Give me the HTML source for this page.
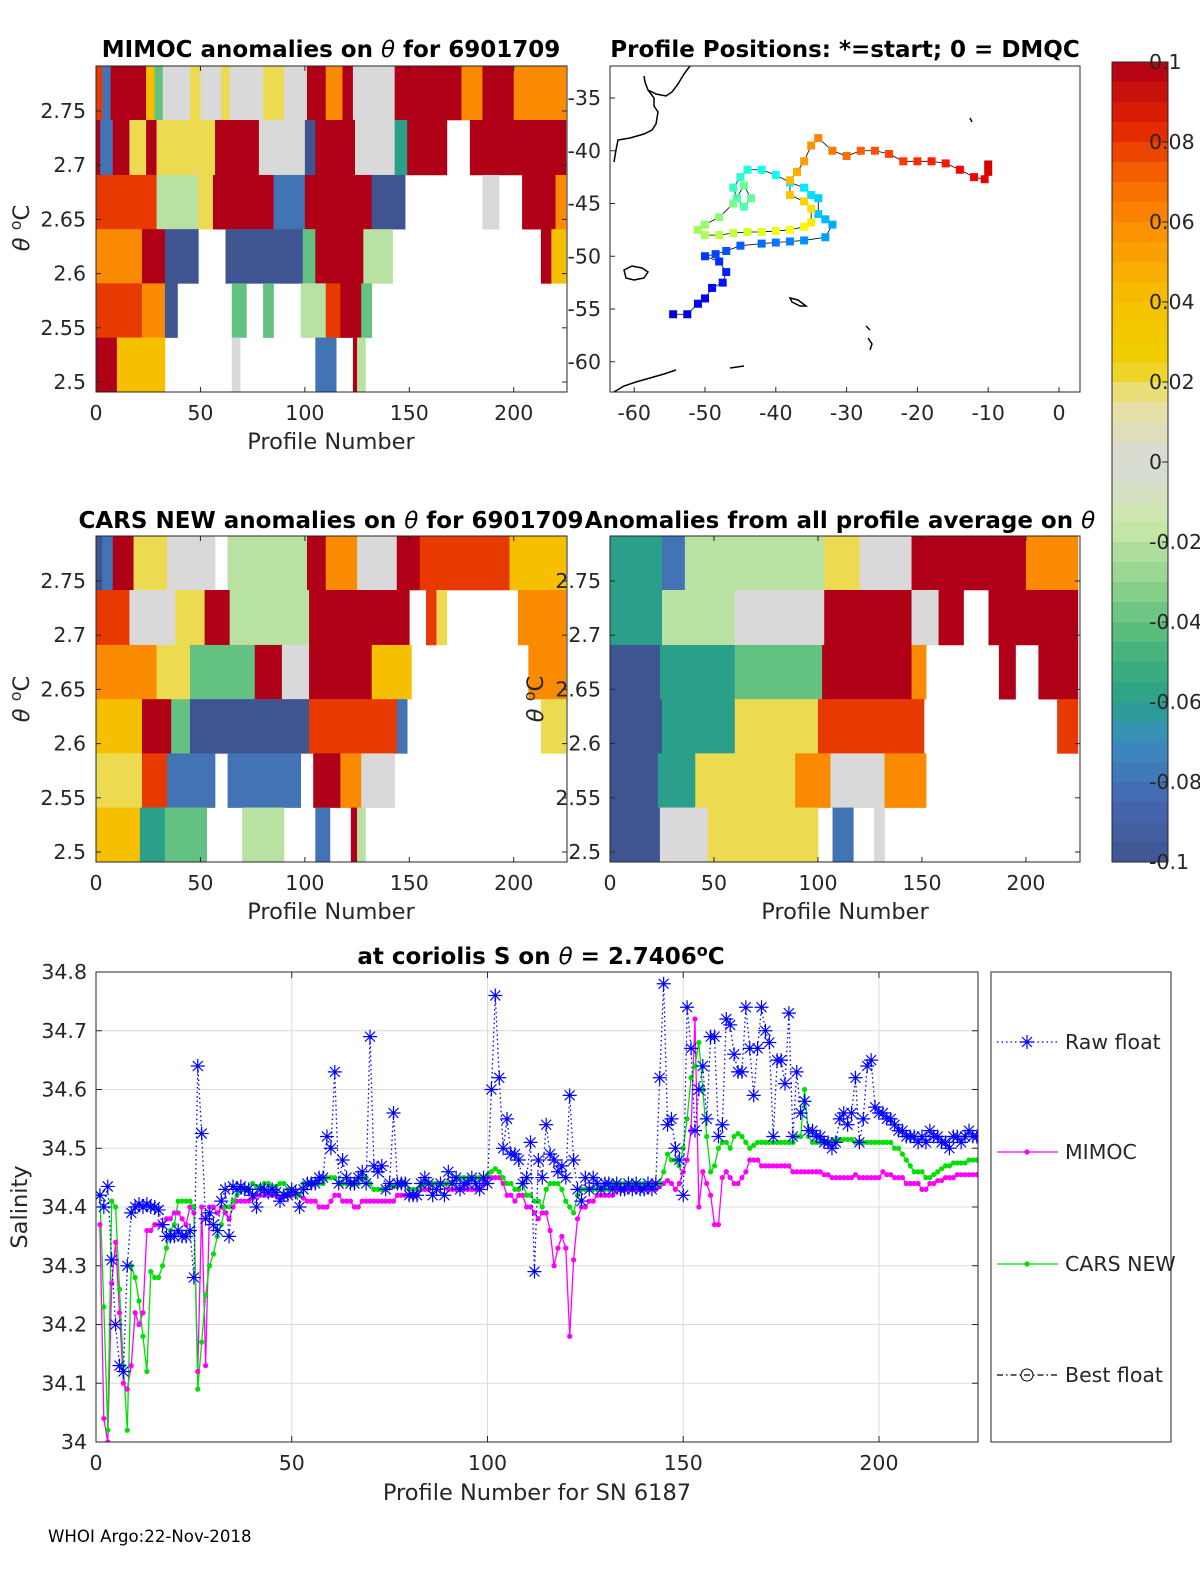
<!DOCTYPE html>
<html><head><meta charset="utf-8">
<style>
html,body{margin:0;padding:0;background:#fff;}
svg{display:block;font-family:"DejaVu Sans","Liberation Sans",sans-serif;}
.t{font-size:20.5px;fill:#262626;}
.ttl{font-size:23px;font-weight:bold;fill:#000;}
.lab{font-size:22.5px;fill:#262626;}
</style></head>
<body>
<svg id="fig" width="1200" height="1575" viewBox="0 0 1200 1575" xmlns="http://www.w3.org/2000/svg">
<g id="heat1"></g>
<g id="heat2"></g>
<g id="heat3"></g>
<g id="map"></g>
<g id="cbar"></g>
<g id="sal"></g>
<g id="txt">
<text class="ttl" x="331" y="57" text-anchor="middle">MIMOC anomalies on <tspan font-style="italic" font-weight="normal">θ</tspan>  for 6901709</text>
<text class="ttl" x="845" y="57" text-anchor="middle">Profile Positions: *=start; 0 = DMQC</text>
<text class="ttl" x="331" y="528" text-anchor="middle">CARS NEW anomalies on <tspan font-style="italic" font-weight="normal">θ</tspan> for 6901709</text>
<text class="ttl" x="840" y="528" text-anchor="middle">Anomalies from all profile average on <tspan font-style="italic" font-weight="normal">θ</tspan></text>
<text class="ttl" x="541" y="964" text-anchor="middle">at coriolis S on <tspan font-style="italic" font-weight="normal">θ</tspan> = 2.7406<tspan dy="-8" font-size="16">o</tspan><tspan dy="8">C</tspan></text>
<text class="lab" x="331" y="449" text-anchor="middle">Profile Number</text>
<text class="lab" x="331" y="919" text-anchor="middle">Profile Number</text>
<text class="lab" x="845" y="919" text-anchor="middle">Profile Number</text>
<text class="lab" x="537" y="1500" text-anchor="middle">Profile Number for SN 6187</text>
<text class="lab" transform="translate(29,228) rotate(-90)" text-anchor="middle"><tspan font-style="italic">θ</tspan> <tspan dy="-8" font-size="16">o</tspan><tspan dy="8">C</tspan></text>
<text class="lab" transform="translate(29,699) rotate(-90)" text-anchor="middle"><tspan font-style="italic">θ</tspan> <tspan dy="-8" font-size="16">o</tspan><tspan dy="8">C</tspan></text>
<text class="lab" transform="translate(543,699) rotate(-90)" text-anchor="middle"><tspan font-style="italic">θ</tspan> <tspan dy="-8" font-size="16">o</tspan><tspan dy="8">C</tspan></text>
<text class="lab" transform="translate(27,1207) rotate(-90)" text-anchor="middle">Salinity</text>
<text x="48" y="1542" font-size="16.6" fill="#000">WHOI Argo:22-Nov-2018</text>
</g>
</svg>
<script>
const NS='http://www.w3.org/2000/svg';
const rowEdges=[2.7915,2.7417,2.691,2.641,2.591,2.541,2.4908];
const mimocRows=[
[[0,3,4],[3,7,-4],[7,24,5],[24,28,2],[28,32,-2],[32,45,0],[45,50,1],[50,60,0],[60,64,1],[64,80,0],[80,90,1],[90,101,0],[101,110,5],[110,118,3],[118,123,5],[123,143,0],[143,175,5],[175,185,3],[185,200,5],[200,225,3]],
[[0,2,5],[2,8,-4],[8,16,5],[16,24,1],[24,29,5],[29,57,1],[57,78,5],[78,100,0],[100,105,-5],[105,124,5],[124,143,0],[143,149,-3],[149,168,5],[168,179,null],[179,225,5]],
[[0,29,4],[29,49,-1],[49,56,1],[56,85,5],[85,100,-4],[100,132,5],[132,148,-5],[148,185,null],[185,193,0],[193,204,null],[204,220,5],[220,225,3]],
[[0,22,3],[22,33,5],[33,49,-5],[49,62,null],[62,99,-5],[99,105,-2],[105,128,5],[128,142,-1],[142,213,null],[213,218,5],[218,225,2]],
[[0,22,4],[22,33,3],[33,39,-5],[39,65,null],[65,72,-2],[72,80,null],[80,85,-2],[85,98,null],[98,110,-1],[110,117,4],[117,127,5],[127,132,-2],[132,225,null]],
[[0,10,5],[10,33,2],[33,65,null],[65,69,0],[69,105,null],[105,115,-4],[115,123,null],[123,125,5],[125,129,-1],[129,225,null]]
];
const carsRows=[
[[0,3,-5],[3,8,-4],[8,18,5],[18,34,1],[34,57,0],[57,63,null],[63,101,-1],[101,110,5],[110,125,3],[125,144,0],[144,155,5],[155,198,4],[198,225,2]],
[[0,16,4],[16,38,0],[38,52,1],[52,64,5],[64,102,-1],[102,150,5],[150,158,null],[158,163,4],[163,168,1],[168,202,null],[202,225,3]],
[[0,29,3],[29,45,1],[45,76,-2],[76,89,5],[89,102,0],[102,132,5],[132,151,2],[151,207,null],[207,225,3]],
[[0,22,2],[22,36,5],[36,45,-2],[45,102,-5],[102,144,4],[144,149,-4],[149,213,null],[213,225,1]],
[[0,22,1],[22,34,4],[34,57,-4],[57,63,null],[63,98,-4],[98,104,null],[104,117,5],[117,127,3],[127,143,0],[143,225,null]],
[[0,21,2],[21,33,-3],[33,53,-2],[53,70,null],[70,90,-1],[90,105,null],[105,112,-4],[112,122,null],[122,125,5],[125,129,-1],[129,225,null]]
];
const avgRows=[
[[0,25,-3],[25,36,-4],[36,103,-1],[103,120,1],[120,145,0],[145,200,5],[200,225,3]],
[[0,25,-3],[25,60,-1],[60,103,0],[103,145,5],[145,158,0],[158,170,5],[170,182,null],[182,225,5]],
[[0,24,-5],[24,60,-3],[60,102,-2],[102,145,5],[145,152,3],[152,187,null],[187,195,5],[195,206,null],[206,225,5]],
[[0,25,-5],[25,60,-3],[60,100,1],[100,151,4],[151,215,null],[215,225,4]],
[[0,23,-5],[23,41,-3],[41,89,1],[89,106,3],[106,132,0],[132,152,3],[152,225,null]],
[[0,24,-5],[24,47,0],[47,100,1],[100,107,null],[107,117,-4],[117,127,null],[127,132,0],[132,225,null]]
];
const thetaTicks=[2.5,2.55,2.6,2.65,2.7,2.75];
const profTicks=[0,50,100,150,200];
const trackLon=[-54.5,-52.5,-51,-50,-49,-47.5,-47,-48,-50,-48.5,-47,-45,-42,-40,-38,-36,-33,-32,-33,-34,-34,-35,-36,-38,-40,-42,-44,-45,-46,-45.5,-44.5,-43.5,-44.5,-46,-48,-50,-51,-50,-48,-46,-44,-42,-40,-38,-36,-35,-35,-36,-38,-38,-37,-36,-35,-34,-32,-30,-28,-26,-24,-22,-20,-18,-16,-14,-12,-10.5,-10,-10];
const trackLat=[-55.5,-55.5,-54.5,-54,-53,-52.5,-51.5,-50.5,-50,-49.8,-49.5,-49,-48.8,-48.7,-48.6,-48.5,-48.2,-47,-46.5,-46,-44.5,-44.2,-43.5,-43,-42.3,-41.8,-41.8,-42.5,-43.5,-44.5,-45.3,-44.5,-43.3,-45,-46.3,-47,-47.5,-48,-48,-47.8,-47.7,-47.7,-47.6,-47.5,-47.2,-46.8,-45.5,-44.8,-44.2,-42.8,-42,-41,-39.5,-38.8,-40,-40.5,-40,-40,-40.3,-41,-41,-41,-41.2,-41.8,-42.5,-42.7,-42,-41.3];
const lonTicks=[-60,-50,-40,-30,-20,-10,0];
const latTicks=[-35,-40,-45,-50,-55,-60];
const cbTicks=[0.1,0.08,0.06,0.04,0.02,0,-0.02,-0.04,-0.06,-0.08,-0.1];
const rawFloat=[34.42,34.40,34.435,34.31,34.20,34.13,34.12,34.30,34.39,34.40,
34.405,34.40,34.405,34.40,34.40,34.395,34.37,34.35,34.35,34.35,
34.36,34.35,34.35,34.36,34.28,34.64,34.525,34.38,34.39,34.37,
34.36,34.41,34.43,34.35,34.435,34.43,34.435,34.43,34.43,34.42,
34.40,34.43,34.43,34.425,34.43,34.425,34.41,34.42,34.42,34.43,
34.425,34.40,34.43,34.44,34.44,34.44,34.45,34.45,34.52,34.50,
34.63,34.44,34.48,34.45,34.44,34.44,34.45,34.46,34.44,34.69,
34.47,34.46,34.47,34.43,34.44,34.56,34.44,34.44,34.44,34.42,
34.42,34.42,34.44,34.45,34.44,34.42,34.43,34.44,34.42,34.46,
34.44,34.45,34.43,34.44,34.44,34.45,34.44,34.43,34.45,34.44,
34.60,34.76,34.62,34.50,34.55,34.49,34.49,34.48,34.44,34.45,
34.51,34.29,34.48,34.45,34.54,34.49,34.48,34.46,34.47,34.45,
34.59,34.48,34.43,34.41,34.45,34.43,34.45,34.44,34.43,34.44,
34.44,34.43,34.44,34.43,34.43,34.44,34.43,34.44,34.43,34.43,
34.44,34.43,34.44,34.62,34.78,34.54,34.55,34.50,34.48,34.42,
34.74,34.67,34.53,34.60,34.64,34.55,34.69,34.69,34.52,34.54,
34.72,34.71,34.66,34.63,34.63,34.74,34.67,34.59,34.67,34.74,
34.70,34.68,34.52,34.65,34.65,34.61,34.73,34.52,34.63,34.56,
34.58,34.53,34.53,34.52,34.52,34.51,34.51,34.50,34.51,34.55,
34.56,34.54,34.56,34.62,34.51,34.55,34.64,34.65,34.57,34.56,
34.56,34.55,34.55,34.54,34.53,34.53,34.52,34.52,34.52,34.51,
34.52,34.51,34.53,34.52,34.52,34.51,34.51,34.50,34.52,34.52,
34.51,34.52,34.53,34.52,34.52];
const mimocSal=[34.37,34.04,34.00,34.27,34.34,34.22,34.10,34.09,34.13,34.22,
34.20,34.22,34.36,34.36,34.37,34.37,34.37,34.38,34.38,34.39,
34.39,34.38,34.37,34.40,34.39,34.12,34.40,34.13,34.40,34.40,
34.39,34.40,34.39,34.38,34.40,34.41,34.41,34.41,34.41,34.415,
34.42,34.42,34.42,34.42,34.42,34.42,34.415,34.42,34.42,34.42,
34.42,34.42,34.415,34.41,34.41,34.41,34.40,34.40,34.40,34.41,
34.42,34.42,34.41,34.41,34.41,34.40,34.40,34.41,34.41,34.41,
34.41,34.41,34.41,34.41,34.41,34.41,34.42,34.42,34.42,34.42,
34.42,34.42,34.43,34.43,34.43,34.44,34.44,34.44,34.44,34.43,
34.43,34.43,34.43,34.43,34.43,34.43,34.43,34.43,34.44,34.45,
34.45,34.45,34.45,34.44,34.42,34.42,34.41,34.42,34.42,34.40,
34.40,34.39,34.38,34.39,34.39,34.36,34.30,34.33,34.35,34.33,
34.18,34.31,34.38,34.40,34.40,34.41,34.41,34.42,34.42,34.42,
34.42,34.42,34.43,34.43,34.43,34.43,34.43,34.43,34.43,34.44,
34.43,34.44,34.43,34.435,34.44,34.445,34.44,34.43,34.44,34.46,
34.48,34.53,34.72,34.40,34.46,34.44,34.42,34.37,34.37,34.45,
34.46,34.45,34.44,34.44,34.45,34.46,34.48,34.48,34.48,34.47,
34.47,34.47,34.47,34.47,34.47,34.47,34.47,34.46,34.46,34.46,
34.46,34.46,34.46,34.46,34.46,34.455,34.455,34.45,34.45,34.45,
34.45,34.45,34.45,34.455,34.45,34.45,34.45,34.45,34.45,34.45,
34.46,34.455,34.455,34.45,34.45,34.45,34.44,34.44,34.44,34.44,
34.43,34.43,34.44,34.44,34.445,34.445,34.45,34.45,34.45,34.455,
34.455,34.455,34.455,34.455,34.455];
const carsSal=[34.42,34.23,34.02,34.41,34.40,34.26,34.13,34.02,34.30,34.28,
34.24,34.18,34.12,34.29,34.28,34.28,34.30,34.33,34.36,34.37,
34.41,34.41,34.41,34.41,34.40,34.09,34.17,34.25,34.30,34.32,
34.35,34.37,34.40,34.40,34.41,34.42,34.43,34.43,34.43,34.44,
34.435,34.435,34.44,34.44,34.435,34.435,34.44,34.44,34.43,34.43,
34.42,34.42,34.44,34.44,34.44,34.44,34.44,34.44,34.45,34.45,
34.45,34.44,34.44,34.44,34.44,34.44,34.44,34.45,34.45,34.44,
34.43,34.43,34.43,34.43,34.435,34.435,34.435,34.44,34.44,34.43,
34.43,34.43,34.435,34.44,34.44,34.44,34.44,34.44,34.44,34.44,
34.44,34.45,34.45,34.45,34.45,34.45,34.45,34.45,34.45,34.455,
34.46,34.465,34.46,34.45,34.44,34.44,34.43,34.43,34.44,34.42,
34.42,34.41,34.41,34.40,34.43,34.44,34.44,34.44,34.43,34.41,
34.40,34.39,34.42,34.43,34.43,34.43,34.43,34.43,34.43,34.43,
34.43,34.44,34.44,34.44,34.44,34.44,34.44,34.44,34.44,34.44,
34.44,34.435,34.44,34.44,34.46,34.49,34.48,34.48,34.47,34.50,
34.55,34.62,34.64,34.68,34.60,34.52,34.46,34.47,34.50,34.51,
34.51,34.50,34.52,34.525,34.52,34.51,34.50,34.505,34.51,34.51,
34.51,34.51,34.51,34.51,34.51,34.51,34.51,34.51,34.52,34.52,
34.60,34.52,34.51,34.51,34.51,34.51,34.51,34.51,34.515,34.515,
34.515,34.515,34.515,34.51,34.51,34.51,34.51,34.51,34.51,34.51,
34.51,34.51,34.51,34.50,34.50,34.49,34.48,34.47,34.46,34.46,
34.46,34.45,34.45,34.455,34.46,34.465,34.47,34.47,34.475,34.475,
34.475,34.475,34.48,34.48,34.48];
const salTicks=[34,34.1,34.2,34.3,34.4,34.5,34.6,34.7,34.8];
const salXTicks=[0,50,100,150,200];

const cmStops=[[-0.1,[63,85,145]],[-0.085,[70,102,176]],[-0.07,[58,140,192]],[-0.06,[42,160,138]],[-0.045,[77,184,122]],[-0.03,[144,212,142]],[-0.015,[205,232,171]],[0,[217,217,217]],[0.015,[232,227,160]],[0.025,[240,208,0]],[0.04,[246,192,0]],[0.055,[251,154,0]],[0.07,[248,106,0]],[0.085,[224,32,0]],[0.1,[176,0,24]]];
function cmap(v){
  v=Math.max(-0.1,Math.min(0.1,v));
  for(let i=0;i<cmStops.length-1;i++){const a=cmStops[i],b=cmStops[i+1];
    if(v<=b[0]){const t=(v-a[0])/(b[0]-a[0]);const c=a[1].map((x,k)=>Math.round(x+(b[1][k]-x)*t));return `rgb(${c[0]},${c[1]},${c[2]})`;}}
  return 'rgb(176,0,24)';
}
function jet(f){
  const r=Math.max(0,Math.min(1,1.5-Math.abs(4*f-3))),g=Math.max(0,Math.min(1,1.5-Math.abs(4*f-2))),b=Math.max(0,Math.min(1,1.5-Math.abs(4*f-1)));
  return `rgb(${Math.round(r*255)},${Math.round(g*255)},${Math.round(b*255)})`;
}
function el(tag,attrs,parent){const e=document.createElementNS(NS,tag);for(const k in attrs)e.setAttribute(k,attrs[k]);if(parent)parent.appendChild(e);return e;}
function txt(parent,x,y,s,anchor,cls){const t=el('text',{x:x,y:y,'text-anchor':anchor||'middle',class:cls||'t'},parent);t.textContent=s;return t;}

function heatmap(gid,rows,x0,x1,y0,y1,pMax,leftLabels,labelX){
  const g=document.getElementById(gid);
  const xs=p=>x0+(p/pMax)*(x1-x0);
  const ys=th=>y0+(rowEdges[0]-th)/(rowEdges[0]-rowEdges[6])*(y1-y0);
  rows.forEach((row,ri)=>{
    row.forEach(seg=>{
      if(seg[2]===null)return;
      const r=el('rect',{x:xs(seg[0]),y:ys(rowEdges[ri]),width:Math.max(0.5,xs(seg[1])-xs(seg[0])+0.3),height:ys(rowEdges[ri+1])-ys(rowEdges[ri])+0.3,fill:cmap(seg[2]*0.02)},g);
      
      
    });
  });
  const box=el('rect',{x:x0,y:y0,width:x1-x0,height:y1-y0,fill:'none',stroke:'#262626','stroke-width':1},g);
  
  
  thetaTicks.forEach(th=>{const y=ys(th);
    el('line',{x1:x0,x2:x0+5,y1:y,y2:y,stroke:'#262626'},g);el('line',{x1:x1,x2:x1-5,y1:y,y2:y,stroke:'#262626'},g);
    if(leftLabels){const t=txt(g,labelX,y+7,th.toFixed(2).replace(/0$/,''),'end');
      
      }
  });
  profTicks.forEach(p=>{const x=xs(p);
    el('line',{x1:x,x2:x,y1:y1,y2:y1-5,stroke:'#262626'},g);el('line',{x1:x,x2:x,y1:y0,y2:y0+5,stroke:'#262626'},g);
    const t=txt(g,x,y1+28,String(p));
    
    
  });
}
heatmap('heat1',mimocRows,96,567,66,392,225.5,true,86);
heatmap('heat2',carsRows,96,567,536,862,225.5,true,86);
heatmap('heat3',avgRows,610,1080,536,862,226,true,601);

(function(){
  const g=document.getElementById('map');
  const X=lon=>1059+lon*7.08, Y=lat=>98+(-35-lat)*10.55;
  const box=el('rect',{x:610,y:66,width:470,height:326,fill:'#fff',stroke:'#262626'},g);
  
  
  const coast=['M690,66 L684,74 L678,84 L672,92 L666,96 L656,94 L648,90 L645,82 L644,76 M648,90 L654,98 L654,106 L658,112 L656,124 L652,130 L644,134 L630,138 L618,140 L616,150 L614,162',
   'M624,270 L632,266 L642,268 L648,272 L644,278 L634,280 L626,278 Z','M790,298 L798,300 L806,306 L800,306 L792,302 Z',
   'M614,392 L624,386 L636,382 L650,378 L664,374 L676,370 M730,368 L744,366','M866,326 L870,330 M868,338 L872,344 L870,350','M970,118 L972,122'];
  coast.forEach(d=>{const p=el('path',{d:d,fill:'none',stroke:'#000','stroke-width':1.5},g);
    
    });
  const pts=trackLon.map((l,i)=>X(l)+','+Y(trackLat[i])).join(' ');
  const pl=el('polyline',{points:pts,fill:'none',stroke:'#000','stroke-width':0.8},g);
  
  
  const n=trackLon.length;
  trackLon.forEach((l,i)=>{
    const f=0.08+0.84*i/(n-1);
    const r=el('rect',{x:X(l)-4,y:Y(trackLat[i])-4,width:8,height:8,fill:jet(f)},g);
    
    
  });
  lonTicks.forEach(l=>{const x=X(l);el('line',{x1:x,x2:x,y1:392,y2:387,stroke:'#262626'},g);
    const t=txt(g,x,420,String(l));
    
    });
  latTicks.forEach(l=>{const y=Y(l);el('line',{x1:610,x2:615,y1:y,y2:y,stroke:'#262626'},g);
    const t=txt(g,601,y+7,String(l),'end');
    
    });
})();

(function(){
  const g=document.getElementById('cbar');
  const y0=62,y1=862,nb=40;
  for(let i=0;i<nb;i++){const v=0.1-(i+0.5)*0.2/nb;
    const r=el('rect',{x:1112,y:y0+i*(y1-y0)/nb,width:56,height:(y1-y0)/nb+0.5,fill:cmap(v)},g);
    
    }
  el('rect',{x:1112,y:y0,width:56,height:y1-y0,fill:'none',stroke:'#262626'},g);
  cbTicks.forEach(v=>{const y=y0+(0.1-v)/0.2*(y1-y0);
    el('line',{x1:1162,x2:1168,y1:y,y2:y,stroke:'#262626'},g);
    const t=txt(g,1149,y+7,String(v),'start');
    
    });
})();

(function(){
  const g=document.getElementById('sal');
  const x0=96,x1=978,y0=972,y1=1442;
  const X=p=>x0+p*(x1-x0)/225.3, Y=s=>y0+(34.8-s)*(y1-y0)/0.8;
  el('rect',{x:x0,y:y0,width:x1-x0,height:y1-y0,fill:'#fff'},g);
  salTicks.forEach(s=>{const y=Y(s);
    el('line',{x1:x0,x2:x1,y1:y,y2:y,stroke:'#dcdcdc'},g);
    el('line',{x1:x0,x2:x0+6,y1:y,y2:y,stroke:'#262626'},g);el('line',{x1:x1,x2:x1-6,y1:y,y2:y,stroke:'#262626'},g);
    const t=txt(g,87,y+7,String(s),'end');
    
    });
  salXTicks.forEach(p=>{const x=X(p);
    el('line',{x1:x,x2:x,y1:y0,y2:y1,stroke:'#dcdcdc'},g);
    el('line',{x1:x,x2:x,y1:y1,y2:y1-6,stroke:'#262626'},g);el('line',{x1:x,x2:x,y1:y0,y2:y0+6,stroke:'#262626'},g);
    const t=txt(g,x,y1+28,String(p));
    
    });
  const clip=el('clipPath',{id:'salclip'},g);el('rect',{x:x0,y:y0,width:x1-x0,height:y1-y0},clip);
  const inner=el('g',{'clip-path':'url(#salclip)'},g);
  function line(arr,color,dash,name){
    const pts=arr.map((v,i)=>X(i+1)+','+Y(v)).join(' ');
    const p=el('polyline',{points:pts,fill:'none',stroke:color,'stroke-width':1.3,'stroke-dasharray':dash||'none'},inner);
    
    
  }
  line(mimocSal,'#ff00ff',null,'mimoc-line');
  line(carsSal,'#00e000',null,'cars-line');
  mimocSal.forEach((v,i)=>{const c=el('circle',{cx:X(i+1),cy:Y(v),r:2.6,fill:'#ff00ff'},inner);
    
    });
  carsSal.forEach((v,i)=>{const c=el('circle',{cx:X(i+1),cy:Y(v),r:2.6,fill:'#00e000'},inner);
    
    });
  line(rawFloat,'#0000ff','1.5 3','raw-float-line');
  rawFloat.forEach((v,i)=>{const x=X(i+1),y=Y(v),r=7;
    const s=el('path',{d:`M${x-r},${y}H${x+r}M${x},${y-r}V${y+r}M${x-5},${y-5}L${x+5},${y+5}M${x-5},${y+5}L${x+5},${y-5}`,stroke:'#0000ff','stroke-width':1.2,fill:'none'},inner);
    
    });
  el('rect',{x:x0,y:y0,width:x1-x0,height:y1-y0,fill:'none',stroke:'#262626'},g);
  const lg=el('g',{},g);
  
  
  el('rect',{x:991,y:972,width:180,height:470,fill:'#fff',stroke:'#262626'},lg);
  const items=[['Raw float','#0000ff','star',1042],['MIMOC','#ff00ff','dot',1152],['CARS NEW','#00e000','dot',1264],['Best float','#000','circle',1375]];
  items.forEach(it=>{
    const e=el('g',{},lg);
    
    
    const y=it[3];
    el('line',{x1:997,x2:1058,y1:y,y2:y,stroke:it[1],'stroke-width':1.2,'stroke-dasharray':it[2]==='star'?'1.5 3':(it[2]==='circle'?'6 3 1.5 3':'none')},e);
    if(it[2]==='star'){const x=1027,r=7;el('path',{d:`M${x-r},${y}H${x+r}M${x},${y-r}V${y+r}M${x-5},${y-5}L${x+5},${y+5}M${x-5},${y+5}L${x+5},${y-5}`,stroke:'#0000ff','stroke-width':1.2},e);}
    else if(it[2]==='dot'){el('circle',{cx:1027,cy:y,r:2.6,fill:it[1]},e);}
    else {el('circle',{cx:1027,cy:y,r:6,fill:'none',stroke:'#000'},e);}
    const t=txt(e,1065,y+7,it[0],'start');t.setAttribute('font-size','19.5');
  });
})();
</script>
</body></html>
